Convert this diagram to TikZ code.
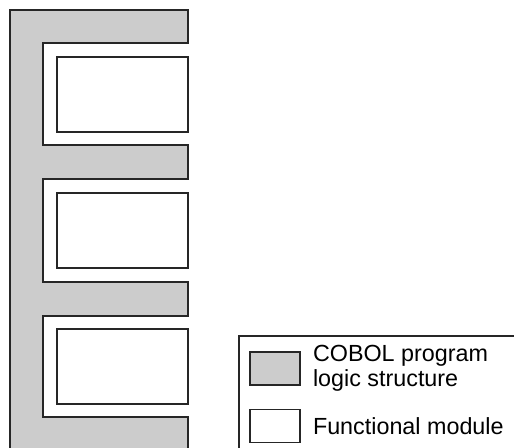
\documentclass[tikz,border=0pt]{standalone}
\usepackage{fontspec}
\setmainfont{Liberation Sans}
\usepackage{tikz}
\usetikzlibrary{positioning}

\begin{document}
\begin{tikzpicture}[
  x=0.75pt, y=-0.75pt,
  font=\fontsize{17.5}{19}\selectfont,
  outline/.style={draw=black!85, line width=1.1pt},
  logic/.style={outline, fill=black!20},
  module/.style={outline, fill=white, minimum width=98.25pt, minimum height=56.25pt, inner sep=0pt},
  swatch/.style={outline, minimum width=37.5pt, minimum height=25pt, inner sep=0pt},
  legtext/.style={align=left, anchor=west, inner sep=0pt}
]
\useasboundingbox (0,0) rectangle (514,448);
% program logic structure
\draw[logic] (10,455) -- (10,10) -- (188,10) -- (188,43) -- (43,43) -- (43,145)
  -- (188,145) -- (188,179) -- (43,179) -- (43,282) -- (188,282) -- (188,316)
  -- (43,316) -- (43,417) -- (188,417) -- (188,455) -- cycle;
% functional modules
\node[module] (mod1) at (122.5,94.5) {};
\node[module] (mod2) at (122.5,230.5) {};
\node[module] (mod3) at (122.5,366.5) {};
% legend
\draw[outline] (239,336) rectangle (520,455);
\node[swatch, fill=black!20] (keylogic) at (275,368.5) {};
\node[swatch, fill=white, below=17pt of keylogic] (keymod) {};
\node[legtext, right=9pt of keylogic] (txtlogic) {COBOL program\\logic structure};
\node[legtext, right=9pt of keymod] (txtmod) {Functional module};
\end{tikzpicture}
\end{document}
